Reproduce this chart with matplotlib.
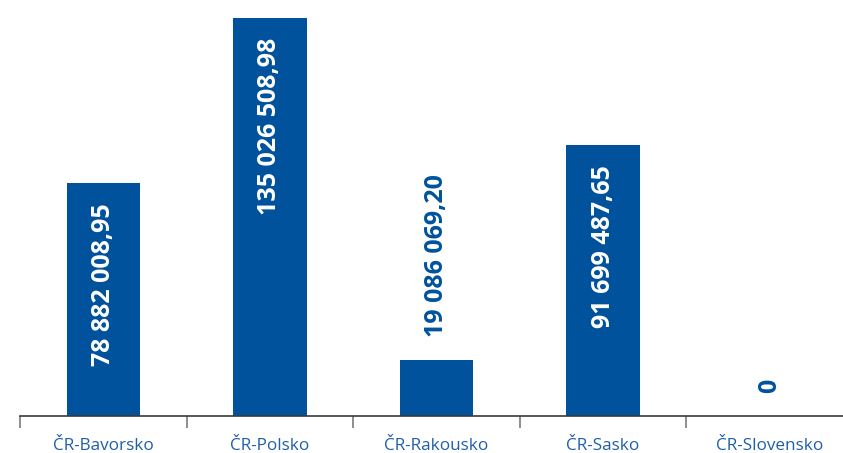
import matplotlib.pyplot as plt

plt.rcParams["font.family"] = ["Open Sans", "DejaVu Sans"]

categories = ["ČR-Bavorsko", "ČR-Polsko", "ČR-Rakousko", "ČR-Sasko", "ČR-Slovensko"]
values = [78_882_008.95, 135_026_508.98, 19_086_069.20, 91_699_487.65, 0.0]
value_labels = ["78 882 008,95", "135 026 508,98", "19 086 069,20", "91 699 487,65", "0"]

BAR_COLOR = "#00529C"
TEXT_BLUE = "#1F5FA6"
W, H = 843, 453

fig = plt.figure(figsize=(W / 100, H / 100), dpi=100)
# axes runs past the right edge of the figure, as in the original
ax = fig.add_axes([20 / W, (H - 416) / H, 5 * 166.6 / W, 416 / H])

x = list(range(len(categories)))
ax.bar(x, values, width=0.44, color=BAR_COLOR, zorder=2)
ax.set_xlim(-0.5, len(categories) - 0.5)
ax.set_ylim(0, 141_000_000)

for xi, val, lab in zip(x, values, value_labels):
    if val > 40_000_000:
        ax.annotate(lab, (xi, val), xytext=(0, -14.5), textcoords="offset points",
                    rotation=90, ha="center", va="top", color="white",
                    fontsize=18, fontweight="bold")
    else:
        ax.annotate(lab, (xi, val), xytext=(0, 16.5), textcoords="offset points",
                    rotation=90, ha="center", va="bottom", color=BAR_COLOR,
                    fontsize=18, fontweight="bold")

for side in ["top", "right", "left"]:
    ax.spines[side].set_visible(False)
ax.spines["bottom"].set_color("#3a3a3a")
ax.spines["bottom"].set_linewidth(1.2)

ax.set_yticks([])
ax.set_xticks([i - 0.5 for i in range(len(categories) + 1)])
ax.set_xticklabels([])
ax.tick_params(axis="x", which="major", length=8.6, width=1.2, color="#7a7a7a")
ax.set_xticks(x, minor=True)
ax.set_xticklabels(categories, minor=True)
ax.tick_params(axis="x", which="minor", length=0, pad=16, labelsize=12.3, labelcolor=TEXT_BLUE)

fig.savefig("out.png", dpi=100)
